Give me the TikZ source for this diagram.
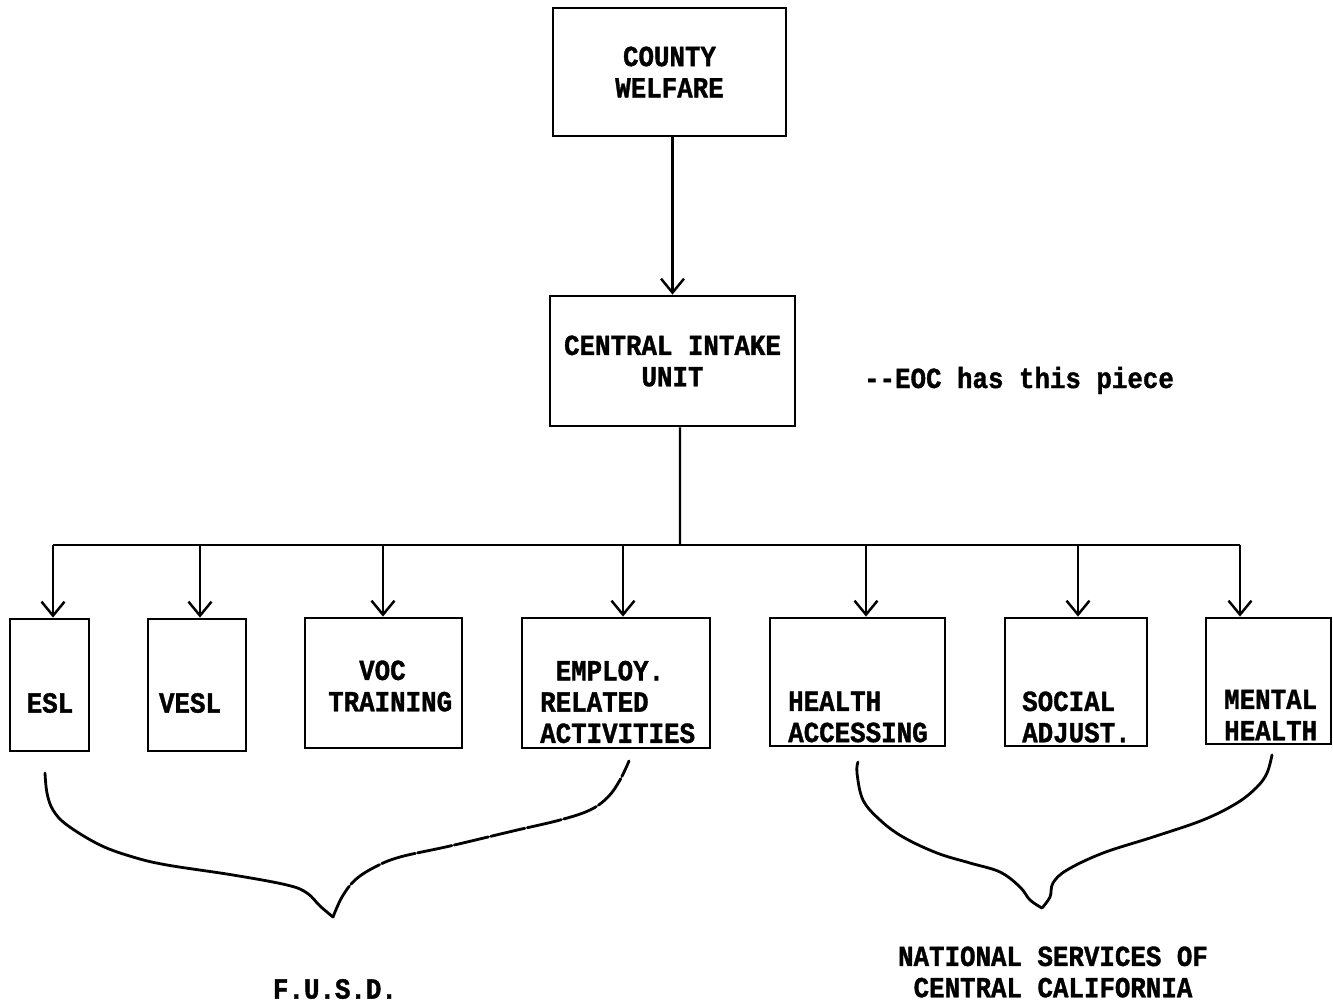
\documentclass[tikz,border=0pt]{standalone}
\usepackage{fontspec}
\setmonofont{Liberation Mono}[FakeStretch=0.885,FakeBold=1.2]
\usetikzlibrary{arrows.meta}
\newcommand\typfont{\ttfamily\bfseries\fontsize{16.6pt}{17.8pt}\selectfont}
\begin{document}
\begin{tikzpicture}[x=0.02cm,y=-0.02cm,line width=1.4pt,
  box/.style 2 args={draw, line width=1.6pt, minimum width=#1*0.02cm, minimum height=#2*0.02cm, inner sep=0pt, font=\typfont, align=center},
  lbl/.style={font=\typfont, inner sep=0pt},
  arr/.style={-{Straight Barb[length=2.8mm,width=4.6mm]}, line width=1.4pt},
  bracestroke/.style={line width=1.6pt, line cap=round, line join=round}]
\useasboundingbox (0,0) rectangle (1333,1008);
% top boxes
\node[box={233}{128}] (cw) at (669.5,72) {COUNTY\\WELFARE};
\node[box={245}{130}] (ci) at (672.5,361) {CENTRAL INTAKE\\UNIT};
\node[lbl, anchor=base] (eoc) at (1019,388) {--EOC has this piece};
% bottom boxes
\node[box={79}{132}]  (esl)  at (49.5,685) {};
\node[box={98}{132}]  (vesl) at (197,685) {};
\node[box={157}{130}] (voc)  at (383.5,683) {};
\node[box={188}{130}] (emp)  at (616,683) {};
\node[box={175}{128}] (hea)  at (857.5,682) {};
\node[box={142}{128}] (soc)  at (1076,682) {};
\node[box={125}{126}] (men)  at (1268.5,681) {};
% texts in bottom boxes
\node[lbl] (tEsl) at (50,703) {ESL};
\node[lbl] (tVesl) at (190,703) {VESL};
\node[lbl, align=left, anchor=west] (tVoc) at (327,686) {\phantom{XX}VOC\\TRAINING};
\node[lbl, align=left, anchor=west] (tEmp) at (539,702) {\phantom{X}EMPLOY.\\RELATED\\ACTIVITIES};
\node[lbl, align=left, anchor=west] (tHea) at (787,717) {HEALTH\\ACCESSING};
\node[lbl, align=left, anchor=west] (tSoc) at (1021,717) {SOCIAL\\ADJUST.};
\node[lbl, align=left, anchor=west] (tMen) at (1223,715) {MENTAL\\HEALTH};
% connectors
\draw[arr] (cw.south -| ci.north) -- (ci.north);
\coordinate (bus) at (680,545);
\draw ([xshift=0.15cm]ci.south) -- (bus);
\coordinate (dEsl) at (53,545);
\coordinate (dVesl) at (200,545);
\coordinate (dVoc) at (383,545);
\coordinate (dEmp) at (623,545);
\coordinate (dHea) at (866,545);
\coordinate (dSoc) at (1078,545);
\coordinate (dMen) at (1240,545);
\draw (dEsl) -- (dMen);
\foreach \d/\b in {dEsl/esl, dVesl/vesl, dVoc/voc, dEmp/emp, dHea/hea, dSoc/soc, dMen/men}
  \draw[arr] (\d) -- (\d |- \b.north);
% braces
\draw[bracestroke] plot[smooth, tension=0.6] coordinates {(45,773) (47,793) (53,810) (67,825) (100,845) (133,857) (167,865) (233,875) (287,885) (307,893) (320,906) (333,917)};
\draw[bracestroke, dash pattern=on 0.7cm off 0.05cm] plot[smooth, tension=0.6] coordinates {(333,917) (342,897) (355,880) (375,867) (400,857) (450,846) (513,831) (560,820) (590,810) (608,797) (620,780) (629,761)};
\draw[bracestroke] plot[smooth, tension=0.6] coordinates {(858,762) (857,773) (863,800) (880,820) (903,837) (937,853) (970,863) (1000,872) (1020,887) (1030,900) (1042,908)};
\draw[bracestroke] plot[smooth, tension=0.6] coordinates {(1042,908) (1050,897) (1053,883) (1067,870) (1103,853) (1153,837) (1203,820) (1237,803) (1257,787) (1267,773) (1272,755)};
% group labels
\node[lbl] (fusd) at (335,989) {F.U.S.D.};
\node[lbl, align=center] (nscc) at (1053,972) {NATIONAL SERVICES OF\\CENTRAL CALIFORNIA};
\end{tikzpicture}
\end{document}
